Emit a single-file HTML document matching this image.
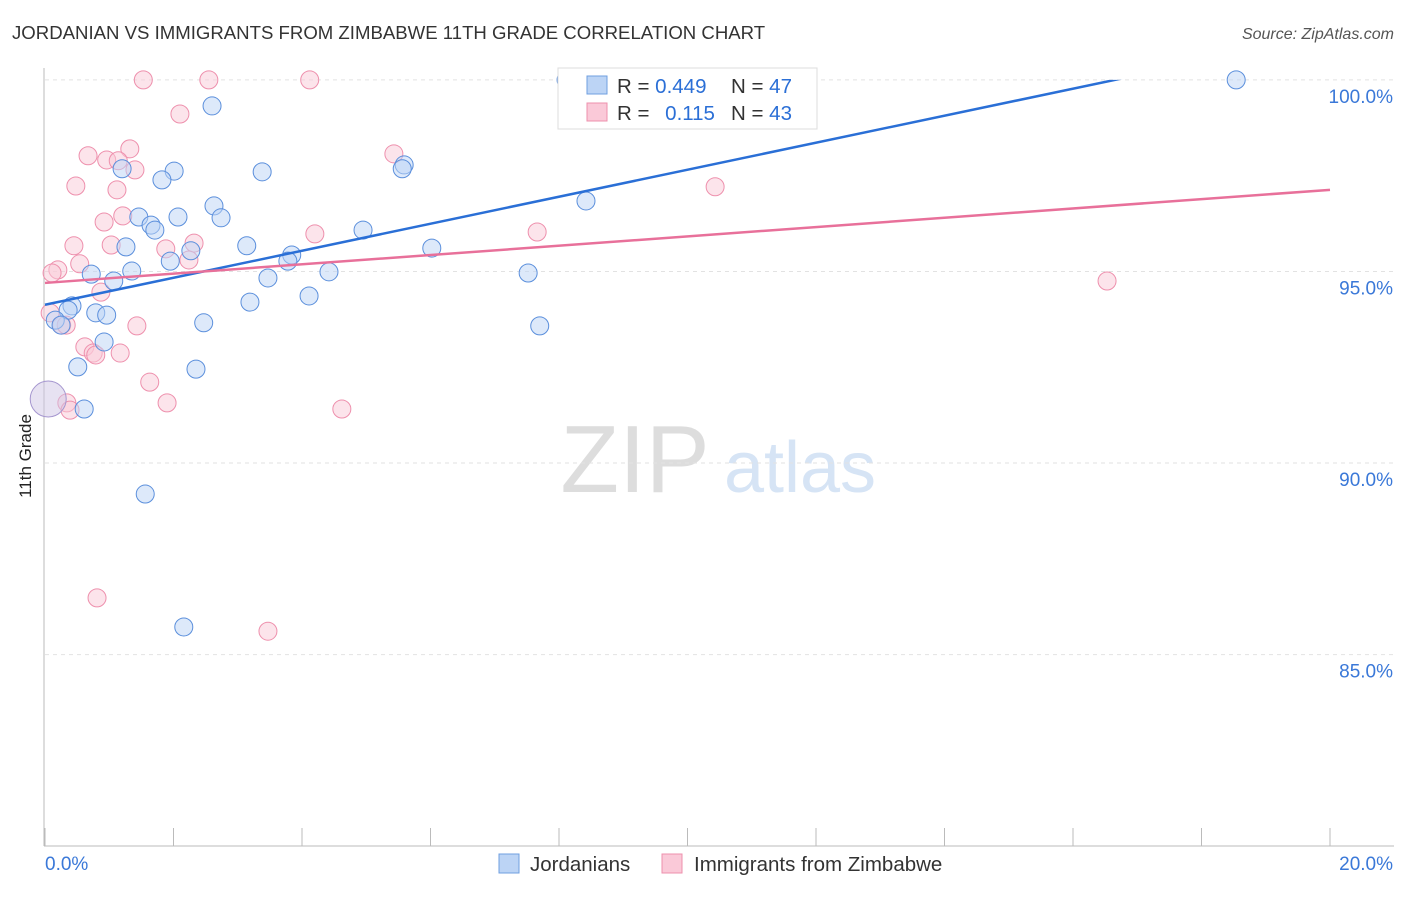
<!DOCTYPE html>
<html><head><meta charset="utf-8"><style>
body{margin:0;background:#fff;font-family:"Liberation Sans",sans-serif}
svg text{font-family:"Liberation Sans",sans-serif}
</style></head><body>
<svg id="c" width="1406" height="892">
<text x="12" y="39" font-size="18.6" fill="#333">JORDANIAN VS IMMIGRANTS FROM ZIMBABWE 11TH GRADE CORRELATION CHART</text>
<text x="1394" y="39" font-size="16" fill="#555" font-style="italic" text-anchor="end">Source: ZipAtlas.com</text>
<text x="31" y="456" font-size="17" fill="#222" transform="rotate(-90 31 456)" text-anchor="middle">11th Grade</text>
<g>
<text x="635" y="492" font-size="96" fill="#ddd" font-family="Liberation Serif" text-anchor="middle">ZIP</text>
<text x="800" y="492" font-size="72" fill="#d6e4f5" text-anchor="middle">atlas</text>
</g>
<g id="grid"></g><g id="axes"></g><g id="pts"></g><g id="lines"></g>
<g>
<rect x="558" y="68" width="259" height="61" fill="#fff" stroke="#ddd"/>
<rect x="587" y="76" width="20" height="18" fill="#bcd4f5" stroke="#6f9fe0"/>
<rect x="587" y="103" width="20" height="18" fill="#fac9d8" stroke="#ee90ad"/>
<text x="617" y="93" font-size="20.5" fill="#333">R = <tspan fill="#2b6fd6">0.449</tspan></text>
<text x="731" y="93" font-size="20.5" fill="#333">N = <tspan fill="#2b6fd6">47</tspan></text>
<text x="617" y="120" font-size="20.5" fill="#333">R = <tspan fill="#2b6fd6" dx="10">0.115</tspan></text>
<text x="731" y="120" font-size="20.5" fill="#333">N = <tspan fill="#2b6fd6">43</tspan></text>
</g>
<g>
<rect x="499" y="854" width="20" height="19" fill="#bcd4f5" stroke="#6f9fe0"/>
<text x="530" y="871" font-size="20.5" fill="#333">Jordanians</text>
<rect x="662" y="854" width="20" height="19" fill="#fac9d8" stroke="#ee90ad"/>
<text x="694" y="871" font-size="20.5" fill="#333">Immigrants from Zimbabwe</text>
</g>
</svg>
<script>
const yTicks=[100,95,90,85];
const xLabels=["0.0%","20.0%"];
const blueX=[8.11,18.54,2.60,2.01,3.38,1.20,1.82,5.59,5.56,8.42,2.63,2.74,1.46,2.07,1.65,1.71,4.95,1.26,3.14,6.02,2.27,3.84,3.78,1.95,1.35,0.72,4.42,7.52,3.47,1.07,4.11,3.19,0.42,0.36,0.79,0.96,0.16,0.25,7.70,2.47,0.92,0.51,2.35,0.61,1.56,2.16];
const blueY=[100,100,99.32,97.62,97.60,97.68,97.39,97.78,97.68,96.84,96.71,96.40,96.42,96.42,96.21,96.08,96.08,95.64,95.67,95.61,95.54,95.43,95.27,95.27,95.01,94.93,94.99,94.96,94.83,94.75,94.36,94.20,94.10,93.99,93.92,93.86,93.73,93.60,93.58,93.66,93.16,92.51,92.45,91.41,89.19,85.72];
const pinkX=[1.53,2.55,4.12,2.10,0.67,1.32,0.96,1.14,5.43,1.40,0.48,1.12,10.43,1.21,0.92,4.20,7.66,0.45,1.03,2.32,1.88,2.24,0.54,0.20,0.11,0.87,16.53,1.43,0.08,0.26,0.33,0.62,0.75,0.79,1.17,1.63,1.90,4.62,0.34,0.39,0.81,3.47];
const pinkY=[100,100,100,99.11,98.02,98.20,97.91,97.89,98.07,97.65,97.23,97.13,97.21,96.45,96.29,95.98,96.03,95.67,95.69,95.74,95.59,95.30,95.20,95.04,94.96,94.46,94.75,93.58,93.92,93.60,93.60,93.03,92.87,92.82,92.87,92.11,91.57,91.41,91.57,91.38,86.48,85.61];
const bigX=[0.05],bigY=[91.67];
const blueTrend=[94.13,101.18];
const pinkTrend=[94.70,97.13];
const X0=45,X1=1330,Y0=80.03,Y1=100.31,PT=68,PB=845;
const sx=v=>X0+(v/20)*(X1-X0);
const sy=v=>PB-(v-Y0)/(Y1-Y0)*(PB-PT);
const NS="http://www.w3.org/2000/svg";
function mk(tag,attrs,parent){const e=document.createElementNS(NS,tag);for(const k in attrs)e.setAttribute(k,attrs[k]);document.getElementById(parent).appendChild(e);return e;}
yTicks.forEach(t=>{
 const l=mk("line",{x1:X0,x2:1394,y1:sy(t),y2:sy(t),stroke:"#e2e2e2","stroke-dasharray":"4,4"},"grid");
 
 
 const tx=mk("text",{x:1393,y:sy(t)+23,"font-size":19,fill:"#3a78d8","text-anchor":"end"},"grid");
 tx.textContent=t.toFixed(1)+"%";
 
 
});
const ax=mk("line",{x1:44,x2:44,y1:68,y2:846,stroke:"#bbb"},"axes");


const bx=mk("line",{x1:44,x2:1394,y1:846,y2:846,stroke:"#bbb"},"axes");


for(let i=0;i<=10;i++){const t=mk("line",{x1:sx(i*2),x2:sx(i*2),y1:828,y2:846,stroke:"#bbb"},"axes");
 
 }
[[0,"start",45],[20,"end",1393]].forEach((d,i)=>{const t=mk("text",{x:d[2],y:870,"font-size":19,fill:"#3a78d8","text-anchor":d[1]},"axes");t.textContent=xLabels[i];
 
 });
function dots(xs,ys,fill,stroke,name,r){xs.forEach((x,i)=>{const c=mk("circle",{cx:sx(x),cy:sy(ys[i]),r:r,fill:fill,"fill-opacity":0.5,stroke:stroke,"stroke-width":1},"pts");
 
 });}
dots(pinkX,pinkY,"#fac9d8","#ee90ad","point-zimbabwe",9);
dots(blueX,blueY,"#bcd4f5","#5b8fdc","point-jordanian",9);
dots(bigX,bigY,"#cfc6e6","#a596cf","point-large",18);
const bl=mk("line",{x1:sx(0),y1:sy(blueTrend[0]),x2:sx(20),y2:sy(blueTrend[1]),stroke:"#2a6fd6","stroke-width":2.5},"lines");


const cp=mk("clipPath",{id:"clp"},"lines");const cr=document.createElementNS(NS,"rect");cr.setAttribute("x",0);cr.setAttribute("y",sy(100));cr.setAttribute("width",1406);cr.setAttribute("height",800);cp.appendChild(cr);
bl.setAttribute("clip-path","url(#clp)");
const pl=mk("line",{x1:sx(0),y1:sy(pinkTrend[0]),x2:sx(20),y2:sy(pinkTrend[1]),stroke:"#e8709a","stroke-width":2.5},"lines");


</script>
</body></html>
